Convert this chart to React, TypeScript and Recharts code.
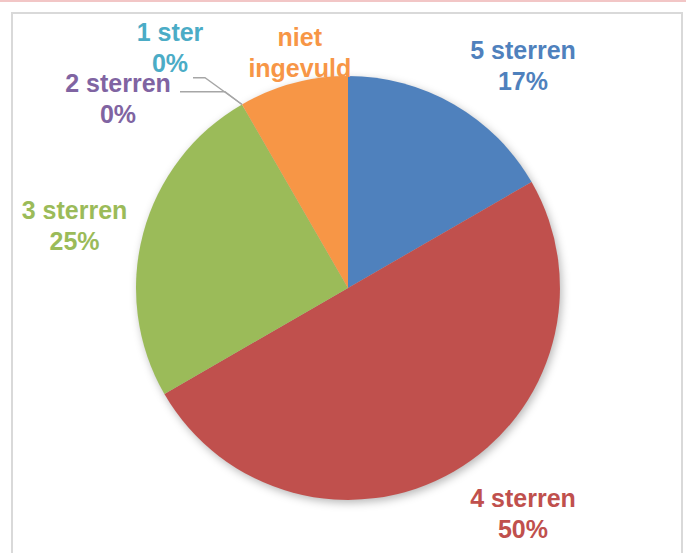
import { PieChart, Pie, Cell } from 'recharts';

const categories = ['5 sterren', '4 sterren', '3 sterren', '2 sterren', '1 ster', 'niet ingevuld'];
const counts = [2, 6, 3, 0, 0, 1];
const colors = ['#4F81BD', '#C0504D', '#9BBB59', '#8064A2', '#4BACC6', '#F79646'];

const chartData = categories.map((name, i) => ({ name, value: counts[i], color: colors[i] }));

const RADIAN = Math.PI / 180;
const FONT_SIZE = 25;
const LINE_GAP = 31;

// label nudges from the point just outside the slice (Excel "best fit" look)
const LABEL_NUDGE: Record<string, [number, number]> = {
  '5 sterren': [49, -11],
  '4 sterren': [49, 1],
  '3 sterren': [-30, -4],
  '2 sterren': [-104, 22],
  '1 ster': [-52, -29],
  'niet ingevuld': [17, 1],
};

// leader line for tiny slices: elbow and end, relative to label anchor
const LEADER: Record<string, [number, number, number, number]> = {
  '2 sterren': [107, 0, 62, 0],
  '1 ster': [35, 37, 23, 37],
};

const renderLabel = (props: any) => {
  const { cx, cy, midAngle, outerRadius, name, percent, index } = props;
  const color = colors[index];
  const r = outerRadius + 40;
  const bx = cx + r * Math.cos(-midAngle * RADIAN);
  const by = cy + r * Math.sin(-midAngle * RADIAN);
  const [dx, dy] = LABEL_NUDGE[name] || [0, 0];
  const x = bx + dx;
  const y = by + dy;
  const lines = name === 'niet ingevuld' ? ['niet', 'ingevuld'] : [name, `${Math.round(percent * 100)}%`];
  const leader = LEADER[name];
  const ex = cx + outerRadius * Math.cos(-midAngle * RADIAN);
  const ey = cy + outerRadius * Math.sin(-midAngle * RADIAN);
  return (
    <g key={`label-${index}`}>
      {leader && (
        <polyline
          points={`${ex},${ey} ${x + leader[0]},${y + leader[1]} ${x + leader[2]},${y + leader[3]}`}
          fill="none"
          stroke="#a6a6a6"
          strokeWidth={1.3}
        />
      )}
      <text
        x={x}
        y={y}
        fill={color}
        textAnchor="middle"
        fontFamily="'Liberation Sans', Arial, sans-serif"
        fontWeight="bold"
        fontSize={FONT_SIZE}
      >
        {lines.map((t, i) => (
          <tspan key={i} x={x} dy={i === 0 ? 0 : LINE_GAP}>
            {t}
          </tspan>
        ))}
      </text>
    </g>
  );
};

export default function App() {
  return (
    <div style={{ position: 'absolute', left: 0, top: 0, width: 688, height: 553, background: '#fff', overflow: 'hidden' }}>
      <div style={{ position: 'absolute', left: 0, top: 0, width: 686, height: 2, background: '#f2c6c6' }} />
      <div
        style={{
          position: 'absolute',
          left: 11,
          top: 12,
          width: 668,
          height: 560,
          border: '2px solid #d9d9d9',
          borderBottom: 'none',
        }}
      />
      <div style={{ position: 'absolute', left: 0, top: 0 }}>
        <PieChart width={688} height={553} margin={{ top: 0, right: 0, bottom: 0, left: 0 }}>
          <defs>
            <filter id="pieShadow" x="-20%" y="-20%" width="140%" height="140%">
              <feGaussianBlur stdDeviation="4" />
            </filter>
          </defs>
          <Pie
            data={chartData}
            dataKey="value"
            nameKey="name"
            cx={350}
            cy={291}
            outerRadius={212}
            startAngle={90}
            endAngle={-270}
            stroke="none"
            isAnimationActive={false}
            label={false}
            labelLine={false}
            style={{ filter: 'url(#pieShadow)' }}
          >
            {chartData.map((entry, index) => (
              <Cell key={`shadow-${index}`} fill="#000" fillOpacity={0.28} stroke="none" />
            ))}
          </Pie>
          <Pie
            data={chartData}
            dataKey="value"
            nameKey="name"
            cx={348}
            cy={288}
            outerRadius={212}
            startAngle={90}
            endAngle={-270}
            stroke="none"
            isAnimationActive={false}
            label={renderLabel}
            labelLine={false}
          >
            {chartData.map((entry, index) => (
              <Cell key={`cell-${index}`} fill={entry.color} stroke="none" />
            ))}
          </Pie>
        </PieChart>
      </div>
    </div>
  );
}
